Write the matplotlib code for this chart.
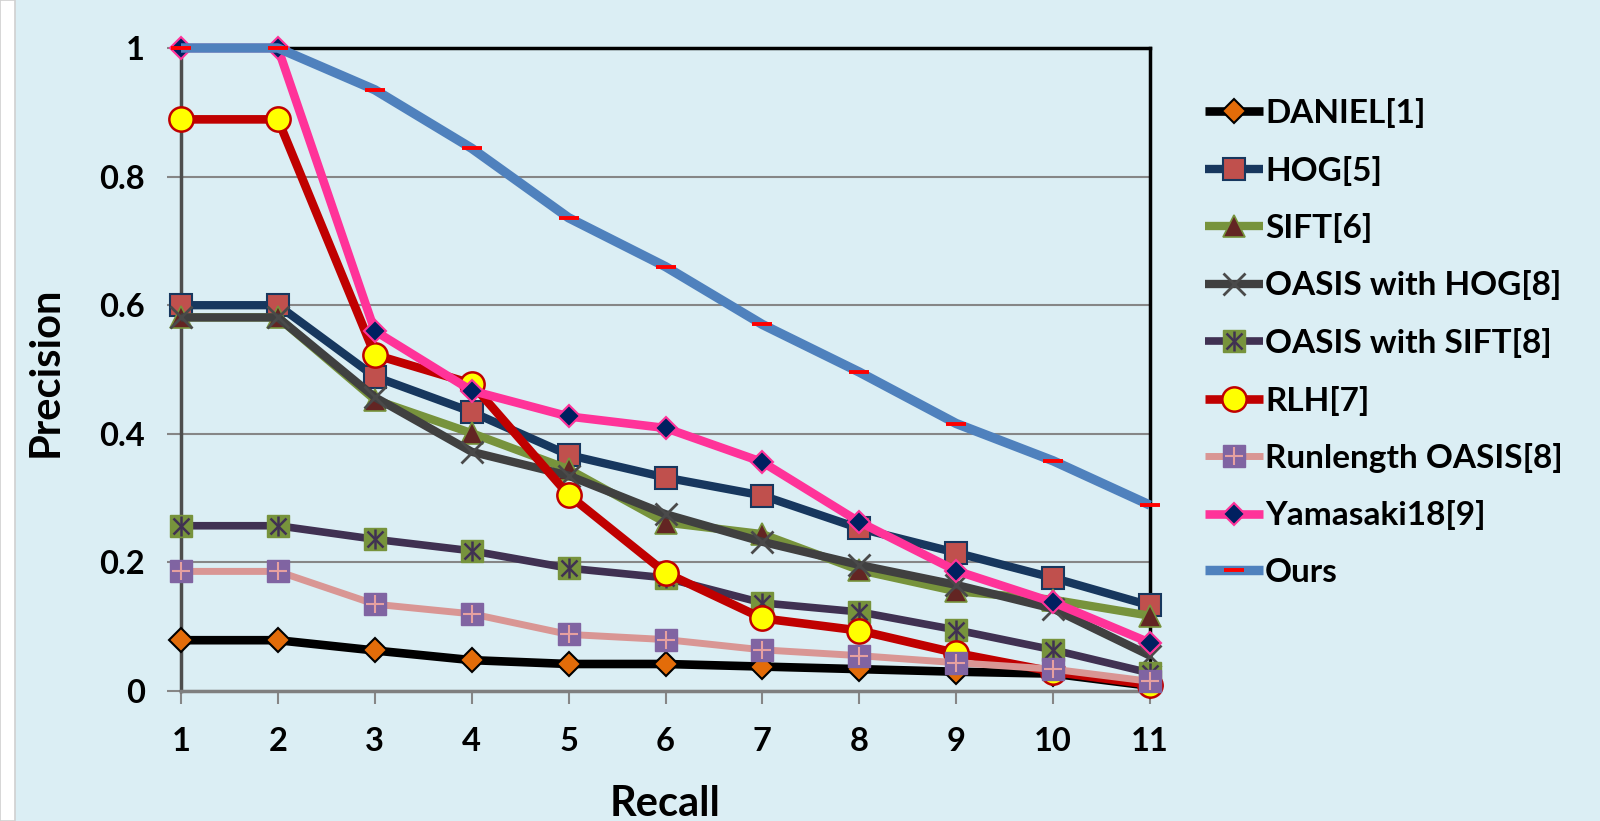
import matplotlib
matplotlib.use("Agg")
import matplotlib.pyplot as plt
from matplotlib.patches import Rectangle

# values
recall = [1, 2, 3, 4, 5, 6, 7, 8, 9, 10, 11]
daniel = [0.079, 0.079, 0.063, 0.048, 0.042, 0.042, 0.038, 0.034, 0.030, 0.027, 0.008]
hog = [0.600, 0.600, 0.489, 0.434, 0.367, 0.332, 0.304, 0.253, 0.215, 0.176, 0.133]
sift = [0.581, 0.581, 0.453, 0.401, 0.345, 0.262, 0.244, 0.188, 0.155, 0.142, 0.117]
oasis_hog = [0.581, 0.581, 0.457, 0.372, 0.335, 0.275, 0.232, 0.196, 0.165, 0.128, 0.055]
oasis_sift = [0.257, 0.257, 0.236, 0.218, 0.191, 0.176, 0.137, 0.123, 0.095, 0.064, 0.028]
rlh = [0.889, 0.889, 0.523, 0.478, 0.305, 0.184, 0.113, 0.094, 0.059, 0.030, 0.010]
runlength = [0.186, 0.186, 0.135, 0.120, 0.088, 0.080, 0.064, 0.055, 0.044, 0.034, 0.015]
yamasaki = [1.0, 1.0, 0.560, 0.467, 0.427, 0.409, 0.356, 0.263, 0.187, 0.138, 0.075]
ours = [1.0, 1.0, 0.935, 0.844, 0.736, 0.660, 0.570, 0.496, 0.416, 0.358, 0.289]

yticks = [0, 0.2, 0.4, 0.6, 0.8, 1]
ytick_labels = ["0", "0.2", "0.4", "0.6", "0.8", "1"]

bg = "#DBEEF4"
plt.rcParams["font.family"] = ["Lato", "DejaVu Sans"]
plt.rcParams["font.weight"] = "bold"

fig = plt.figure(figsize=(16, 8.21), dpi=100, facecolor=bg)
fig.patches.append(Rectangle((0, 0), 15 / 1600, 1, transform=fig.transFigure,
                             facecolor="white", edgecolor="#D0D0D0", lw=1.2))
ax = fig.add_axes([181 / 1600, 1 - 691 / 821, 969 / 1600, 643 / 821], facecolor=bg)

handles = []
labels = []

def series(y, lw, color, zo, **mk):
    ln, = ax.plot(recall, y, color=color, lw=lw, solid_joinstyle="round",
                  solid_capstyle="butt", clip_on=False, zorder=zo, **mk)
    return ln

h = series(daniel, 6.2, "black", 3, marker="D", ms=12.5,
           mfc="#E36C09", mec="black", mew=1.5)
handles.append(h); labels.append("DANIEL[1]")

h = series(hog, 6.0, "#17375E", 4, marker="s", ms=15.5,
           mfc="#C0504D", mec="#17375E", mew=1.5)
handles.append(h); labels.append("HOG[5]")

h = series(sift, 6.0, "#77933C", 5, marker="^", ms=15.5,
           mfc="#632523", mec="#77933C", mew=1.2)
handles.append(h); labels.append("SIFT[6]")

h = series(oasis_hog, 6.0, "#404040", 6, marker="x", ms=16,
           mec="#4A4A4A", mew=2.0)
handles.append(h); labels.append("OASIS with HOG[8]")

h1 = series(oasis_sift, 5.5, "#403152", 7, marker="s", ms=15.5,
            mfc="#77933C", mec="#77933C", mew=1.0)
h2, = ax.plot(recall, oasis_sift, ls="none", marker="x", ms=11, mec="#403152",
              mew=1.8, clip_on=False, zorder=7)
h3, = ax.plot(recall, oasis_sift, ls="none", marker="|", ms=14, mec="#403152",
              mew=1.8, clip_on=False, zorder=7)
handles.append((h1, h2, h3)); labels.append("OASIS with SIFT[8]")

h = series(rlh, 6.2, "#C00000", 8, marker="o", ms=17.5,
           mfc="#FFFF00", mec="#C00000", mew=1.8)
handles.append(h); labels.append("RLH[7]")

h1 = series(runlength, 5.0, "#D99694", 9, marker="s", ms=15.5,
            mfc="#8064A2", mec="#8064A2", mew=1.0)
h2, = ax.plot(recall, runlength, ls="none", marker="+", ms=13, mec="#E6A0A0",
              mew=1.5, clip_on=False, zorder=9)
handles.append((h1, h2)); labels.append("Runlength OASIS[8]")

h = series(yamasaki, 6.2, "#FF3399", 10, marker="D", ms=11.5,
           mfc="#002060", mec="#FF3399", mew=1.5)
handles.append(h); labels.append("Yamasaki18[9]")

h = series(ours, 6.8, "#4F81BD", 11, marker="_", ms=15,
           mec="#FF0000", mew=2.8)
handles.append(h); labels.append("Ours")

ax.set_xlim(1, 11)
ax.set_ylim(0, 1)
ax.set_xticks(recall)
ax.set_xticklabels([str(r) for r in recall])
ax.set_yticks(yticks)
ax.set_yticklabels(ytick_labels)
ax.grid(axis="y", color="#868686", lw=1.5)
ax.set_axisbelow(True)

for s in ["top", "right"]:
    ax.spines[s].set_color("black")
    ax.spines[s].set_linewidth(2.5)
ax.spines["left"].set_color("#4D4D4D")
ax.spines["left"].set_linewidth(2.5)
ax.spines["bottom"].set_color("#7F7F7F")
ax.spines["bottom"].set_linewidth(2.5)
ax.spines["left"].set_zorder(2.5)
ax.spines["bottom"].set_zorder(2.5)

ax.tick_params(axis="y", length=10, width=1.5, color="#868686", pad=16,
               labelsize=23.5)
ax.tick_params(axis="x", length=9, width=1.5, color="#868686", pad=17,
               labelsize=23.5)
for t in ax.get_xticklabels() + ax.get_yticklabels():
    t.set_fontweight("bold")

fig.text(46 / 1600, 1 - 372 / 821, "Precision", rotation=90, ha="center",
         va="center", fontsize=30, fontweight="bold")
fig.text(665 / 1600, 1 - 804 / 821, "Recall", ha="center", va="center",
         fontsize=30, fontweight="bold")

leg = fig.legend(handles, labels, loc="upper left",
                 bbox_to_anchor=(1205 / 1600, 1 - 98 / 821),
                 frameon=False, handlelength=1.75,
                 handletextpad=0.05, labelspacing=0.825, borderpad=0,
                 borderaxespad=0, prop={"weight": "bold", "size": 24})

fig.savefig("out.png", dpi=100, facecolor=bg)
